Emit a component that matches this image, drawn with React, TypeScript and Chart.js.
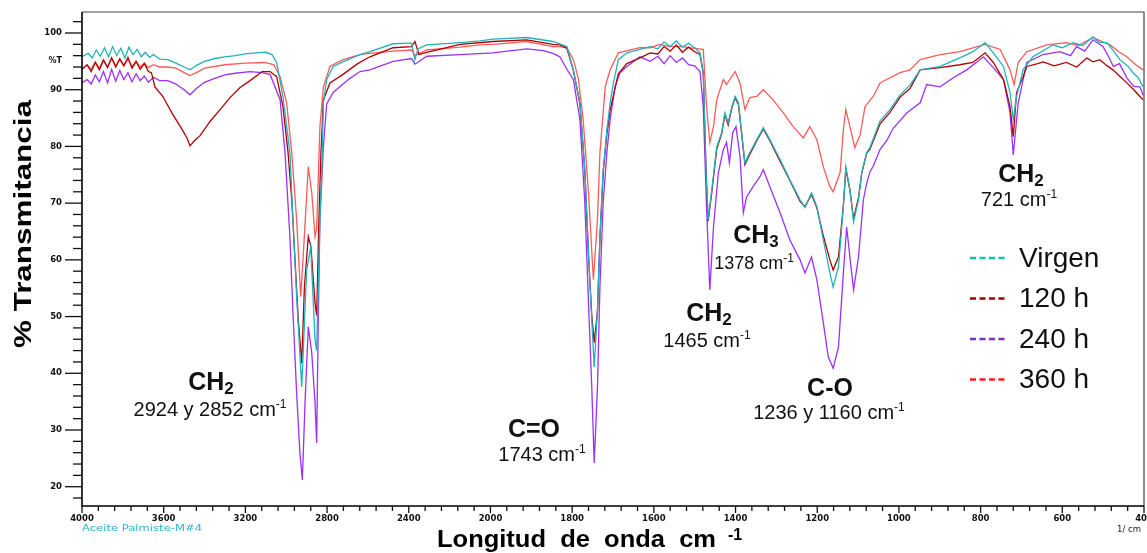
import React, { useEffect, useRef } from "react";
import { Chart, registerables } from "chart.js";

Chart.register(...registerables);

// ---------- data ----------
const seriesLabels = ["Virgen", "120 h", "240 h", "360 h"];
const lineColors = ["#1fb3bd", "#b00000", "#9b30ff", "#ff5a5a"];
const legendColors = ["#00c89a", "#a00000", "#7b2fbe", "#ff1a1a"];

const xMajorLabels = [4000, 3600, 3200, 2800, 2400, 2000, 1800, 1600, 1400, 1200, 1000, 800, 600, 400];
const yMajorLabels = [20, 30, 40, 50, 60, 70, 80, 90, 100];

// [wavenumber cm-1, %T]
const virgen: [number, number][] = [
  [4000, 95.8], [3970, 96.4], [3950, 95.6], [3930, 97.0], [3910, 95.9], [3890, 97.4], [3870, 95.8], [3850, 97.6],
  [3830, 96.0], [3810, 97.3], [3790, 95.6], [3770, 97.5], [3750, 96.2], [3730, 97.1], [3710, 95.8], [3690, 96.6],
  [3670, 95.7], [3650, 96.2], [3620, 95.4], [3580, 95.3], [3540, 94.7], [3500, 94.0], [3471, 93.5], [3440, 94.3],
  [3400, 95.0], [3350, 95.5], [3300, 95.8], [3250, 96.0], [3200, 96.3], [3150, 96.5], [3100, 96.6], [3070, 96.2],
  [3047, 94.8], [3016, 88.8], [2982, 78.9], [2967, 67.1], [2949, 53.5], [2924, 37.6], [2900, 58.2], [2880, 62.3],
  [2859, 45.9], [2851, 44.0], [2835, 67.1], [2826, 75.9], [2818, 87.7], [2802, 91.8], [2770, 94.1], [2722, 94.9],
  [2639, 96.2], [2590, 96.7], [2477, 98.1], [2400, 98.2], [2386, 98.2], [2370, 95.3], [2355, 97.2], [2312, 97.9],
  [2149, 98.3], [2051, 98.6], [1994, 98.9], [1911, 99.2], [1847, 98.5], [1813, 97.6], [1797, 93.5], [1781, 87.7],
  [1769, 75.9], [1760, 61.2], [1752, 49.4], [1746, 41.1], [1738, 51.2], [1732, 64.1], [1724, 75.9], [1715, 82.9],
  [1707, 87.7], [1699, 91.2], [1687, 95.3], [1666, 96.5], [1634, 97.1], [1609, 97.6], [1590, 97.2], [1575, 98.4],
  [1560, 97.6], [1545, 98.6], [1530, 97.5], [1515, 98.2], [1500, 97.4], [1487, 96.5], [1479, 93.0], [1472, 75.3],
  [1467, 67.1], [1458, 72.4], [1446, 79.9], [1434, 82.4], [1426, 85.9], [1418, 84.2], [1409, 87.0], [1401, 88.8],
  [1393, 87.7], [1385, 82.4], [1377, 77.1], [1365, 78.9], [1348, 81.2], [1332, 83.3], [1316, 81.2], [1291, 77.7],
  [1267, 74.1], [1242, 70.6], [1230, 69.2], [1214, 71.8], [1201, 69.4], [1185, 63.5], [1169, 57.7], [1161, 55.2],
  [1148, 58.8], [1136, 69.4], [1130, 76.4], [1120, 72.4], [1111, 66.7], [1099, 70.6], [1091, 75.4], [1079, 78.9],
  [1071, 79.8], [1046, 84.5], [1022, 86.5], [997, 89.1], [973, 90.8], [948, 93.5], [899, 94.1], [851, 95.6],
  [819, 96.7], [789, 98.3], [769, 96.5], [744, 94.1], [728, 89.5], [720, 84.7], [712, 88.8], [696, 93.5],
  [672, 95.8], [623, 97.9], [600, 97.4], [574, 98.3], [550, 97.8], [525, 99.3], [510, 98.4], [491, 98.3],
  [470, 96.4], [459, 95.3], [440, 94.2], [427, 93.0], [415, 92.2], [402, 90.5],
];

const h120: [number, number][] = [
  [4000, 93.6], [3975, 94.4], [3955, 93.2], [3935, 94.8], [3915, 93.5], [3895, 95.2], [3875, 93.9], [3855, 95.6],
  [3835, 94.0], [3815, 95.4], [3795, 94.2], [3775, 95.7], [3755, 93.8], [3735, 95.0], [3715, 93.6], [3695, 94.6],
  [3675, 93.2], [3660, 93.0], [3643, 90.5], [3604, 88.8], [3555, 85.6], [3510, 83.0], [3486, 81.5], [3471, 80.1],
  [3450, 81.0], [3422, 81.9], [3373, 84.4], [3324, 86.5], [3275, 88.6], [3226, 90.4], [3177, 91.6], [3140, 92.6],
  [3119, 93.2], [3079, 93.2], [3047, 92.3], [3016, 87.0], [2991, 78.9], [2973, 70.6], [2957, 60.0], [2941, 49.4],
  [2924, 41.8], [2911, 55.2], [2892, 64.1], [2879, 62.3], [2859, 52.4], [2851, 50.2], [2840, 67.1], [2830, 78.9],
  [2818, 88.2], [2786, 91.2], [2722, 92.7], [2650, 94.6], [2590, 95.8], [2477, 97.4], [2386, 97.6], [2370, 98.5],
  [2350, 96.2], [2312, 96.6], [2149, 98.0], [1994, 98.5], [1911, 98.8], [1847, 98.0], [1830, 97.9], [1813, 97.3],
  [1797, 93.4], [1781, 87.5], [1769, 75.6], [1760, 60.8], [1752, 50.2], [1746, 45.4], [1738, 51.0], [1732, 63.8],
  [1724, 75.4], [1715, 82.2], [1707, 86.4], [1699, 89.0], [1687, 92.8], [1666, 94.6], [1634, 95.6], [1609, 96.5],
  [1590, 96.3], [1575, 97.6], [1560, 96.8], [1545, 97.9], [1530, 96.6], [1515, 97.5], [1500, 96.7], [1487, 96.2],
  [1479, 92.8], [1472, 75.0], [1467, 66.8], [1458, 72.0], [1446, 79.6], [1434, 82.2], [1426, 85.6], [1418, 83.8],
  [1409, 86.8], [1401, 88.6], [1393, 87.4], [1385, 82.2], [1377, 76.8], [1365, 78.6], [1348, 81.0], [1332, 83.1],
  [1316, 81.0], [1291, 77.4], [1267, 74.0], [1242, 70.3], [1230, 69.4], [1214, 71.5], [1201, 69.2], [1185, 64.2],
  [1169, 60.0], [1161, 58.2], [1148, 60.5], [1136, 69.6], [1130, 76.0], [1120, 72.3], [1111, 67.2], [1099, 71.0],
  [1091, 75.3], [1079, 78.8], [1071, 79.5], [1046, 84.0], [1022, 86.0], [997, 88.7], [973, 90.2], [948, 93.5],
  [899, 93.9], [851, 94.4], [819, 94.8], [789, 96.5], [769, 94.8], [744, 91.8], [728, 87.0], [720, 81.7],
  [712, 89.5], [696, 92.3], [687, 94.1], [660, 94.6], [647, 94.9], [620, 94.2], [590, 94.8], [565, 94.0],
  [540, 95.6], [525, 94.9], [508, 95.3], [490, 94.2], [476, 93.5], [460, 92.4], [442, 91.2], [425, 90.0],
  [410, 88.8], [402, 88.2],
];

const h240: [number, number][] = [
  [4000, 91.2], [3975, 91.8], [3955, 91.0], [3935, 92.6], [3915, 91.4], [3895, 93.2], [3875, 91.2], [3855, 93.6],
  [3835, 91.5], [3815, 93.4], [3795, 91.8], [3775, 93.0], [3755, 91.4], [3735, 92.8], [3715, 91.6], [3695, 92.4],
  [3675, 91.3], [3650, 92.2], [3620, 91.6], [3580, 91.6], [3540, 91.0], [3500, 90.0], [3471, 89.1], [3440, 90.2],
  [3400, 91.3], [3350, 92.0], [3300, 92.6], [3250, 92.9], [3177, 93.2], [3120, 93.0], [3079, 92.7], [3030, 88.2],
  [3006, 78.9], [2982, 64.1], [2967, 50.7], [2949, 36.5], [2933, 25.9], [2921, 21.2], [2908, 34.8], [2892, 48.2],
  [2875, 43.6], [2859, 34.8], [2851, 27.7], [2843, 49.4], [2835, 67.1], [2818, 79.9], [2802, 87.5], [2770, 89.5],
  [2722, 91.0], [2688, 92.0], [2639, 93.2], [2590, 93.5], [2477, 95.0], [2386, 95.5], [2370, 94.5], [2312, 95.9],
  [2149, 96.2], [1994, 96.5], [1911, 97.2], [1870, 96.9], [1847, 96.4], [1830, 95.8], [1813, 93.6], [1797, 91.8],
  [1781, 84.7], [1769, 70.1], [1760, 52.4], [1752, 37.6], [1746, 24.2], [1738, 37.6], [1732, 55.2], [1724, 70.1],
  [1715, 78.9], [1707, 84.7], [1695, 90.5], [1683, 93.0], [1666, 94.1], [1634, 95.8], [1609, 95.0], [1590, 95.9],
  [1575, 94.6], [1560, 96.0], [1545, 94.8], [1530, 95.6], [1515, 94.4], [1500, 94.2], [1487, 93.2], [1479, 87.0],
  [1471, 69.4], [1463, 54.7], [1454, 65.8], [1442, 75.4], [1430, 79.4], [1422, 80.7], [1415, 77.1], [1407, 82.4],
  [1399, 83.5], [1389, 78.2], [1381, 68.3], [1373, 71.1], [1357, 72.9], [1340, 74.7], [1332, 75.9], [1316, 72.9],
  [1291, 68.3], [1267, 63.5], [1242, 60.0], [1230, 57.7], [1214, 60.5], [1201, 56.5], [1185, 48.9], [1173, 42.9],
  [1161, 40.9], [1148, 44.6], [1136, 57.7], [1128, 65.8], [1120, 60.5], [1111, 54.7], [1099, 60.5], [1087, 70.6],
  [1079, 73.5], [1071, 75.5], [1063, 76.5], [1046, 79.5], [1030, 81.0], [1014, 83.2], [981, 85.9], [948, 87.7],
  [932, 90.9], [899, 90.5], [867, 92.1], [834, 93.5], [793, 95.8], [769, 93.9], [744, 91.8], [728, 85.9],
  [720, 78.5], [708, 87.7], [687, 94.8], [647, 96.2], [606, 96.7], [580, 96.0], [565, 97.6], [545, 96.8],
  [525, 98.8], [500, 97.6], [485, 95.6], [475, 94.1], [460, 94.6], [442, 92.1], [425, 90.6], [410, 90.5],
  [402, 89.0],
];

const h360: [number, number][] = [
  [4000, 93.7], [3975, 94.3], [3955, 93.6], [3935, 94.9], [3915, 93.8], [3895, 95.3], [3875, 94.0], [3855, 95.6],
  [3835, 94.2], [3815, 95.5], [3795, 94.3], [3775, 95.4], [3755, 94.1], [3735, 95.0], [3715, 94.0], [3695, 94.7],
  [3675, 93.9], [3650, 94.4], [3620, 94.0], [3580, 94.0], [3540, 93.8], [3500, 93.0], [3471, 92.5], [3440, 93.0],
  [3400, 93.8], [3300, 94.4], [3200, 94.7], [3104, 94.8], [3060, 94.4], [3030, 92.3], [2998, 87.7], [2973, 78.9],
  [2949, 67.1], [2929, 53.5], [2916, 61.2], [2892, 76.4], [2875, 71.8], [2859, 64.1], [2851, 65.5], [2835, 83.5],
  [2818, 90.5], [2786, 94.1], [2722, 95.3], [2639, 96.2], [2590, 96.4], [2477, 96.8], [2386, 97.0], [2370, 96.0],
  [2312, 97.0], [2149, 97.5], [2051, 97.9], [1994, 98.0], [1911, 98.5], [1847, 97.6], [1830, 97.6], [1813, 97.4],
  [1797, 95.3], [1785, 92.0], [1773, 84.7], [1760, 71.8], [1748, 56.5], [1738, 67.1], [1732, 78.9], [1719, 90.5],
  [1707, 93.5], [1687, 96.5], [1634, 97.4], [1609, 97.4], [1585, 98.0], [1560, 97.6], [1530, 97.6], [1500, 97.3],
  [1479, 97.1], [1471, 87.0], [1463, 80.7], [1454, 83.5], [1446, 88.2], [1430, 91.8], [1422, 90.9], [1414, 91.8],
  [1401, 93.2], [1389, 91.2], [1377, 86.5], [1365, 88.6], [1348, 88.8], [1332, 90.0], [1308, 88.2], [1283, 85.9],
  [1259, 83.5], [1234, 81.5], [1218, 83.5], [1201, 81.2], [1185, 76.4], [1169, 72.9], [1161, 72.0], [1144, 75.4],
  [1136, 82.9], [1130, 86.5], [1120, 83.5], [1108, 79.8], [1095, 82.0], [1083, 87.0], [1063, 88.8], [1046, 91.2],
  [1030, 91.8], [997, 93.0], [973, 93.5], [948, 95.3], [899, 96.2], [851, 96.7], [789, 98.0], [752, 97.1],
  [728, 93.5], [718, 90.9], [708, 94.8], [687, 96.7], [638, 97.9], [590, 98.3], [560, 97.8], [525, 99.2],
  [500, 98.4], [483, 97.9], [460, 96.6], [442, 95.8], [420, 94.4], [402, 93.5],
];

const seriesData = [virgen, h120, h240, h360];

// ---------- split wavenumber axis (2x expansion below 2000 cm-1) ----------
const wnToPos = (w: number) => (w >= 2000 ? (4000 - w) / 2 : 1000 + (2000 - w));
const posToWn = (t: number) => (t <= 1000 ? 4000 - 2 * t : 2000 - (t - 1000));

const SANS = '"Liberation Sans", Arial, sans-serif';
const SMALL = '"DejaVu Sans", sans-serif';

type Seg = { t: string; f: string; dy: number };
const BIG = `bold 25px ${SANS}`;
const SUB = `bold 17px ${SANS}`;
const NUM = `20px ${SANS}`;
const NUM_S = `18px ${SANS}`;
const SUP = `12px ${SANS}`;

const annotations: { cx: number; by: number; segs: Seg[] }[] = [
  { cx: 211, by: 390, segs: [{ t: "CH", f: BIG, dy: 0 }, { t: "2", f: SUB, dy: 4 }] },
  { cx: 210, by: 416, segs: [{ t: "2924 y 2852 cm", f: NUM, dy: 0 }, { t: "-1", f: SUP, dy: -8 }] },
  { cx: 534, by: 437, segs: [{ t: "C=O", f: BIG, dy: 0 }] },
  { cx: 542, by: 461, segs: [{ t: "1743 cm", f: NUM, dy: 0 }, { t: "-1", f: SUP, dy: -8 }] },
  { cx: 709, by: 321, segs: [{ t: "CH", f: BIG, dy: 0 }, { t: "2", f: SUB, dy: 4 }] },
  { cx: 707, by: 347, segs: [{ t: "1465 cm", f: NUM, dy: 0 }, { t: "-1", f: SUP, dy: -8 }] },
  { cx: 756, by: 243, segs: [{ t: "CH", f: BIG, dy: 0 }, { t: "3", f: SUB, dy: 4 }] },
  { cx: 754, by: 269, segs: [{ t: "1378 cm", f: NUM_S, dy: 0 }, { t: "-1", f: SUP, dy: -7 }] },
  { cx: 830, by: 396, segs: [{ t: "C-O", f: BIG, dy: 0 }] },
  { cx: 829, by: 419, segs: [{ t: "1236 y 1160 cm", f: NUM, dy: 0 }, { t: "-1", f: SUP, dy: -8 }] },
  { cx: 1021, by: 182, segs: [{ t: "CH", f: BIG, dy: 0 }, { t: "2", f: SUB, dy: 4 }] },
  { cx: 1019, by: 206, segs: [{ t: "721 cm", f: NUM, dy: 0 }, { t: "-1", f: SUP, dy: -8 }] },
];

function drawSegs(ctx: CanvasRenderingContext2D, segs: Seg[], cx: number, by: number) {
  let total = 0;
  const ws = segs.map((s) => {
    ctx.font = s.f;
    const w = ctx.measureText(s.t).width;
    total += w;
    return w;
  });
  let x = cx - total / 2;
  ctx.textAlign = "left";
  ctx.textBaseline = "alphabetic";
  segs.forEach((s, i) => {
    ctx.font = s.f;
    ctx.fillText(s.t, x, by + s.dy);
    x += ws[i];
  });
}

function fitText(ctx: CanvasRenderingContext2D, text: string, x: number, y: number, width: number, align: CanvasTextAlign) {
  const w = ctx.measureText(text).width;
  ctx.save();
  ctx.translate(x, y);
  ctx.scale(width / w, 1);
  ctx.textAlign = align;
  ctx.fillText(text, 0, 0);
  ctx.restore();
}

const decorPlugin = {
  id: "decor",
  afterDraw(chart: any) {
    const { ctx, chartArea: a, scales } = chart;
    const xs = scales.x;
    const ys = scales.y;
    ctx.save();

    // frame
    ctx.strokeStyle = "#444";
    ctx.lineWidth = 1.2;
    ctx.beginPath();
    ctx.moveTo(a.left, a.top);
    ctx.lineTo(a.right, a.top);
    ctx.lineTo(a.right, a.bottom);
    ctx.stroke();
    ctx.strokeStyle = "#000";
    ctx.lineWidth = 1.6;
    ctx.beginPath();
    ctx.moveTo(a.left, a.top);
    ctx.lineTo(a.left, a.bottom);
    ctx.lineTo(a.right, a.bottom);
    ctx.stroke();

    // tick marks
    ctx.lineWidth = 1.3;
    ctx.strokeStyle = "#111";
    ys.ticks.forEach((tk: any) => {
      const y = ys.getPixelForValue(tk.value);
      const len = yMajorLabels.includes(tk.value) ? 17 : 9;
      ctx.beginPath();
      ctx.moveTo(a.left - len, y);
      ctx.lineTo(a.left, y);
      ctx.stroke();
    });
    xs.ticks.forEach((tk: any) => {
      const x = xs.getPixelForValue(tk.value);
      const len = xMajorLabels.includes(posToWn(tk.value)) ? 7 : 5;
      ctx.beginPath();
      ctx.moveTo(x, a.bottom);
      ctx.lineTo(x, a.bottom + len);
      ctx.stroke();
    });

    // small axis annotations
    ctx.fillStyle = "#111";
    ctx.font = `bold 8px ${SMALL}`;
    ctx.textAlign = "right";
    ctx.textBaseline = "middle";
    ctx.fillText("%T", 62, 61);

    ctx.fillStyle = "#2fb3cc";
    ctx.font = `9px ${SMALL}`;
    ctx.textBaseline = "middle";
    fitText(ctx, "Aceite Palmiste-M#4", 82, 529, 120, "left");

    ctx.fillStyle = "#222";
    ctx.font = `8px ${SMALL}`;
    fitText(ctx, "1/ cm", 1117, 530, 24, "left");

    // axis titles
    ctx.fillStyle = "#000";
    ctx.textBaseline = "alphabetic";
    ctx.font = `bold 24px ${SANS}`;
    fitText(ctx, "Longitud  de  onda  cm", 437, 547, 279, "left");
    ctx.font = `bold 16px ${SANS}`;
    ctx.textAlign = "left";
    ctx.fillText("-1", 728, 540);

    ctx.save();
    ctx.translate(31, 224);
    ctx.rotate(-Math.PI / 2);
    ctx.font = `bold 24px ${SANS}`;
    fitText(ctx, "% Transmitancia", 0, 0, 248, "center");
    ctx.restore();

    // peak annotations
    ctx.fillStyle = "#111";
    annotations.forEach((an) => drawSegs(ctx, an.segs, an.cx, an.by));

    // legend
    seriesLabels.forEach((lab, i) => {
      const yLine = 258 + i * 40.5;
      ctx.strokeStyle = legendColors[i];
      ctx.lineWidth = 2.4;
      ctx.setLineDash([6, 3.5]);
      ctx.beginPath();
      ctx.moveTo(970, yLine);
      ctx.lineTo(1007, yLine);
      ctx.stroke();
      ctx.setLineDash([]);
      ctx.fillStyle = "#111";
      ctx.font = `28px ${SANS}`;
      ctx.textAlign = "left";
      ctx.textBaseline = "alphabetic";
      ctx.fillText(lab, 1019, 266.5 + i * 40.5);
    });

    ctx.restore();
  },
};

export default function App() {
  const ref = useRef<HTMLCanvasElement>(null);

  useEffect(() => {
    if (!ref.current) return;
    const chart = new Chart(ref.current, {
      type: "line",
      data: {
        datasets: seriesData.map((pts, i) => ({
          label: seriesLabels[i],
          data: pts.map(([w, t]) => ({ x: wnToPos(w), y: t })),
          borderColor: lineColors[i],
          backgroundColor: lineColors[i],
          borderWidth: 1.3,
          pointRadius: 0,
          tension: 0,
          fill: false,
        })),
      },
      options: {
        responsive: false,
        animation: false,
        events: [],
        layout: { padding: { left: 0, right: 3, top: 12, bottom: 0 } },
        plugins: { legend: { display: false }, tooltip: { enabled: false }, title: { display: false } },
        scales: {
          x: {
            type: "linear",
            min: 0,
            max: 2600,
            grid: { display: false, drawTicks: false },
            border: { display: false },
            afterBuildTicks: (scale: any) => {
              const ticks = [];
              for (let t = 0; t <= 2600; t += 40) ticks.push({ value: t });
              scale.ticks = ticks;
            },
            afterFit: (scale: any) => {
              scale.height = 47;
              scale.paddingLeft = 0;
              scale.paddingRight = 0;
            },
            ticks: {
              autoSkip: false,
              maxRotation: 0,
              minRotation: 0,
              padding: 8,
              color: "#111",
              font: { family: SMALL, size: 8.5, weight: "bold" },
              callback: (v: any) => {
                const w = posToWn(Number(v));
                return xMajorLabels.includes(w) ? String(w) : "";
              },
            },
          },
          y: {
            type: "linear",
            min: 16.6,
            max: 103.7,
            grid: { display: false, drawTicks: false },
            border: { display: false },
            afterBuildTicks: (scale: any) => {
              const ticks = [];
              for (let v = 18; v <= 102; v += 2) ticks.push({ value: v });
              scale.ticks = ticks;
            },
            afterFit: (scale: any) => {
              scale.width = 82;
              scale.paddingTop = 0;
              scale.paddingBottom = 0;
            },
            ticks: {
              autoSkip: false,
              padding: 20,
              color: "#111",
              font: { family: SMALL, size: 8.5, weight: "bold" },
              callback: (v: any) => (yMajorLabels.includes(Number(v)) ? String(v) : ""),
            },
          },
        },
      },
      plugins: [decorPlugin],
    } as any);
    return () => chart.destroy();
  }, []);

  return (
    <div style={{ position: "absolute", left: 0, top: 0, width: 1147, height: 553, background: "#fff" }}>
      <canvas ref={ref} width={1147} height={553} style={{ display: "block" }} />
    </div>
  );
}
